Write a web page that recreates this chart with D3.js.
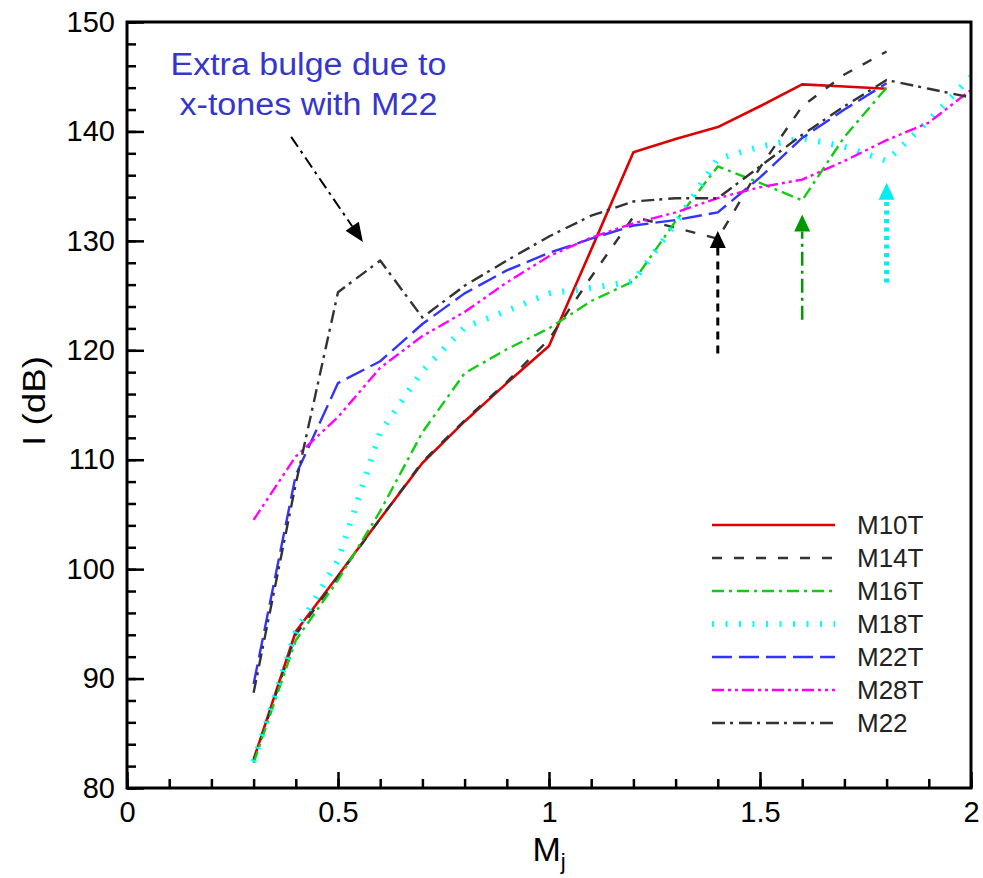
<!DOCTYPE html>
<html>
<head>
<meta charset="utf-8">
<script src="https://cdn.jsdelivr.net/npm/d3@7"></script>
<style>
  body { margin: 0; background: #fff; }
  svg { display: block; font-family: "Liberation Sans", Arial, sans-serif; }
</style>
</head>
<body>
<svg id="chart" width="983" height="878"></svg>
<script>
// x grid shared by every series (Mj)
const mj = [0.3, 0.4, 0.5, 0.6, 0.7, 0.8, 0.9, 1.0, 1.1, 1.2, 1.3, 1.4, 1.5, 1.6, 1.7, 1.8, 1.9, 2.0];

// I (dB), null = no point
const m10t = [82.6, 94.3, 99.4, 104.6, 109.7, 113.5, 117.0, 120.4, 129.2, 138.1, 139.3, 140.4, 142.3, 144.3, 144.1, 143.9, null, null];
const m14t = [82.5, 94.0, 99.3, 104.6, 109.8, 113.6, 117.1, 121.0, 126.7, 132.2, 131.2, 130.2, 136.7, 142.3, 145.2, 147.3, null, null];
const m16t = [82.3, 93.5, 99.0, 105.3, 112.5, 117.9, 120.1, 122.0, 124.5, 126.3, 131.8, 136.8, 135.3, 133.7, 139.5, 144.0, null, null];
const m18t = [82.4, 94.3, 100.8, 112.5, 118.1, 122.1, 123.6, 125.2, 125.7, 126.3, 131.6, 137.5, 138.6, 139.4, 138.6, 137.3, 141.0, 145.0];
const m22t = [89.5, 108.6, 117.0, 119.0, 122.4, 125.2, 127.3, 128.9, 130.2, 131.4, 131.9, 132.6, 135.8, 139.4, 142.0, 144.4, null, null];
const m28t = [104.5, 110.3, 113.9, 118.4, 121.3, 123.5, 126.2, 128.6, 130.3, 131.6, 132.6, 133.9, 134.9, 135.6, 137.3, 139.2, 140.8, 143.8];
const m22  = [88.7, 107.8, 125.3, 128.2, 123.0, 125.9, 128.2, 130.4, 132.3, 133.6, 133.9, 133.9, 136.8, 139.7, 142.3, 144.7, 143.9, 143.1];

const seriesNames = ["M10T", "M14T", "M16T", "M18T", "M22T", "M28T", "M22"];
const seriesValues = [m10t, m14t, m16t, m18t, m22t, m28t, m22];

const xMajor = [0, 0.5, 1, 1.5, 2];
const yMajor = [80, 90, 100, 110, 120, 130, 140, 150];

// tone arrows: [Mj, from, to]
const toneArrows = [[1.4, 119.7, 130.9], [1.6, 122.8, 132.4], [1.8, 126.2, 135.3]];

// line looks, same order as seriesNames
const looks = [
  { color: "#dd0000", dash: null, w: 2.6 },
  { color: "#333333", dash: "10,12", w: 2.4 },
  { color: "#11cc11", dash: "12,5,3,5", w: 2.4 },
  { color: "#00ffff", dash: "2,11.5", w: 6 },
  { color: "#3333ff", dash: "20,7", w: 2.4 },
  { color: "#ff00ff", dash: "12,4,3,4,3,4", w: 2.4 },
  { color: "#333333", dash: "13,5,3,6", w: 2.4 }
];

const svg = d3.select("#chart");
const x = d3.scaleLinear().domain([0, 2]).range([127, 971]);
const y = d3.scaleLinear().domain([80, 150]).range([788, 22]);

const plot = svg.append("g");

plot.append("clipPath").attr("id", "clip")
  .append("rect")
  .attr("x", x(0)).attr("y", y(150))
  .attr("width", x(2) - x(0)).attr("height", y(80) - y(150));

let line = d3.line()
  .defined(d => d[1] != null)
  .x(d => x(d[0]))
  .y(d => y(d[1]));

const lines = plot.append("g").attr("clip-path", "url(#clip)");
seriesValues.forEach((vals, i) => {
  lines.append("path")
    .datum(mj.map((m, j) => [m, vals[j]]))
    .attr("fill", "none")
    .attr("stroke", looks[i].color)
    .attr("stroke-width", looks[i].w)
    .attr("stroke-dasharray", looks[i].dash)
    .attr("stroke-linejoin", "round")
    .attr("d", line);
});

// axes, ticks inward
const tickFont = 29;
let yAxis = g => g
  .attr("transform", `translate(${x(0)},0)`)
  .call(d3.axisLeft(y).tickValues(yMajor).tickSize(-17).tickPadding(12).tickFormat(d3.format("d")))
  .call(g => g.select(".domain").remove());
let yMinor = g => g
  .attr("transform", `translate(${x(0)},0)`)
  .call(d3.axisLeft(y).tickValues(d3.range(80, 150.1, 2)).tickSize(-9).tickFormat(""))
  .call(g => g.select(".domain").remove());
let xAxis = g => g
  .attr("transform", `translate(0,${y(80)})`)
  .call(d3.axisBottom(x).tickValues(xMajor).tickSize(-16).tickPadding(13).tickFormat(d => d3.format("")(d)))
  .call(g => g.select(".domain").remove());
let xMinor = g => g
  .attr("transform", `translate(0,${y(80)})`)
  .call(d3.axisBottom(x).tickValues(d3.range(0, 2.01, 0.1)).tickSize(-9).tickFormat(""))
  .call(g => g.select(".domain").remove());

svg.append("g").call(yMinor);
svg.append("g").call(xMinor);
svg.append("g").call(yAxis);
svg.append("g").call(xAxis);

svg.selectAll(".tick line").attr("stroke", "#000").attr("stroke-width", 2.5);
svg.selectAll(".tick text")
  .attr("font-family", "Liberation Sans, Arial, sans-serif")
  .attr("font-size", tickFont)
  .attr("fill", "#000");

// frame
svg.append("rect")
  .attr("x", x(0)).attr("y", y(150))
  .attr("width", x(2) - x(0)).attr("height", y(80) - y(150))
  .attr("fill", "none").attr("stroke", "#000").attr("stroke-width", 3);

// axis titles
svg.append("text")
  .attr("transform", `translate(45,401) rotate(-90)`)
  .attr("text-anchor", "middle")
  .attr("font-size", 31)
  .attr("textLength", 90)
  .attr("lengthAdjust", "spacingAndGlyphs")
  .text("I (dB)");

let mt = svg.append("text")
  .attr("x", (x(0) + x(2)) / 2)
  .attr("y", 861)
  .attr("text-anchor", "middle")
  .attr("font-size", 34);
mt.append("tspan").text("M");
mt.append("tspan").attr("font-size", 22).attr("dy", 8).text("j");

// arrowhead helper
function arrow(g, x1, y1, x2, y2, color, dash, w, len, half) {
  const dx = x2 - x1, dy = y2 - y1, L = Math.hypot(dx, dy);
  const ux = dx / L, uy = dy / L;
  const bx = x2 - ux * len, by = y2 - uy * len;
  g.append("line")
    .attr("x1", x1).attr("y1", y1).attr("x2", bx).attr("y2", by)
    .attr("stroke", color).attr("stroke-width", w)
    .attr("stroke-dasharray", dash);
  g.append("path")
    .attr("d", `M${x2},${y2}L${bx - uy * half},${by + ux * half}L${bx + uy * half},${by - ux * half}Z`)
    .attr("fill", color);
}

const ann = svg.append("g");
const arrowLooks = [
  { color: "#000", dash: "8,6", w: 3 },
  { color: "#009900", dash: "14,5,3,5", w: 2.5 },
  { color: "#00eeee", dash: "4,4.5", w: 5 }
];
toneArrows.forEach((a, i) => {
  arrow(ann, x(a[0]), y(a[1]), x(a[0]), y(a[2]), arrowLooks[i].color, arrowLooks[i].dash, arrowLooks[i].w, 17, 8);
});

// bulge note
arrow(ann, x(0.389), y(139.5), x(0.559), y(129.9), "#000", "12,5,3,5", 2, 19, 8);

const note = ann.append("text")
  .attr("text-anchor", "middle")
  .attr("fill", "#3636cc")
  .attr("font-size", 31);
note.append("tspan").attr("x", x(0.43)).attr("y", 75).attr("textLength", 276).attr("lengthAdjust", "spacingAndGlyphs").text("Extra bulge due to");
note.append("tspan").attr("x", x(0.43)).attr("y", 115).attr("textLength", 258).attr("lengthAdjust", "spacingAndGlyphs").text("x-tones with M22");

// legend
const legend = svg.append("g");
seriesNames.forEach((name, i) => {
  const ly = 525 + i * 33;
  legend.append("line")
    .attr("x1", 712).attr("x2", 835).attr("y1", ly).attr("y2", ly)
    .attr("stroke", looks[i].color)
    .attr("stroke-width", looks[i].w)
    .attr("stroke-dasharray", looks[i].dash);
  legend.append("text")
    .attr("x", 857).attr("y", ly)
    .attr("dy", "0.36em")
    .attr("font-size", 26)
    .attr("fill", "#222")
    .text(name);
});
</script>
</body>
</html>
